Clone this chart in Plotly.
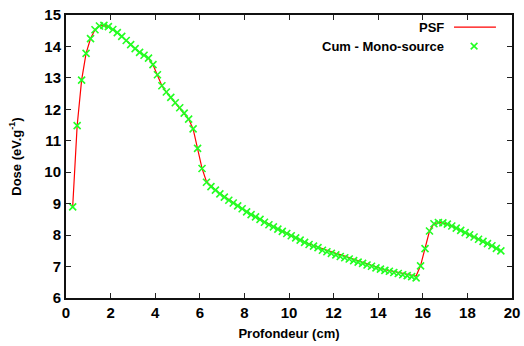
import plotly.graph_objects as go

depth_cm = [0.3, 0.5, 0.7, 0.9, 1.1, 1.3, 1.5, 1.7, 1.9, 2.1, 2.3, 2.5, 2.7, 2.9, 3.1, 3.3, 3.5, 3.7, 3.9,
            4.1, 4.3, 4.5, 4.7, 4.9, 5.1, 5.3, 5.5, 5.7, 5.9, 6.1, 6.3, 6.5, 6.7, 6.9, 7.1, 7.3, 7.5, 7.7,
            7.9, 8.1, 8.3, 8.5, 8.7, 8.9, 9.1, 9.3, 9.5, 9.7, 9.9, 10.1, 10.3, 10.5, 10.7, 10.9, 11.1,
            11.3, 11.5, 11.7, 11.9, 12.1, 12.3, 12.5, 12.7, 12.9, 13.1, 13.3, 13.5, 13.7, 13.9, 14.1,
            14.3, 14.5, 14.7, 14.9, 15.1, 15.3, 15.5, 15.7, 15.9, 16.1, 16.3, 16.5, 16.7, 16.9, 17.1,
            17.3, 17.5, 17.7, 17.9, 18.1, 18.3, 18.5, 18.7, 18.9, 19.1, 19.3, 19.5]

dose_cum = [8.90, 11.48, 12.93, 13.78, 14.25, 14.53, 14.65, 14.67, 14.63, 14.54, 14.44, 14.32, 14.19,
            14.06, 13.93, 13.81, 13.72, 13.63, 13.42, 13.10, 12.75, 12.55, 12.38, 12.21, 12.05, 11.88,
            11.69, 11.38, 10.76, 10.12, 9.68, 9.54, 9.43, 9.31, 9.21, 9.11, 9.02, 8.93, 8.84, 8.74,
            8.65, 8.58, 8.50, 8.41, 8.33, 8.26, 8.19, 8.12, 8.05, 7.98, 7.91, 7.84, 7.77, 7.70, 7.65,
            7.60, 7.52, 7.47, 7.42, 7.37, 7.32, 7.28, 7.24, 7.19, 7.14, 7.10, 7.05, 7.01, 6.96, 6.92,
            6.88, 6.85, 6.81, 6.78, 6.74, 6.71, 6.68, 6.64, 7.02, 7.57, 8.13, 8.36, 8.40, 8.39, 8.35,
            8.29, 8.22, 8.15, 8.08, 8.01, 7.94, 7.87, 7.80, 7.73, 7.66, 7.58, 7.50]

dose_psf = [8.90, 11.48, 12.93, 13.78, 14.25, 14.53, 14.65, 14.67, 14.63, 14.54, 14.44, 14.32, 14.19,
            14.06, 13.93, 13.81, 13.72, 13.63, 13.42, 13.10, 12.75, 12.55, 12.38, 12.21, 12.05, 11.88,
            11.69, 11.38, 10.76, 10.12, 9.70, 9.56, 9.44, 9.32, 9.22, 9.12, 9.03, 8.94, 8.85, 8.75,
            8.66, 8.58, 8.50, 8.42, 8.34, 8.27, 8.20, 8.13, 8.06, 7.99, 7.92, 7.85, 7.78, 7.72, 7.67,
            7.62, 7.55, 7.50, 7.46, 7.42, 7.38, 7.33, 7.28, 7.22, 7.17, 7.12, 7.07, 7.03, 6.98, 6.94,
            6.90, 6.87, 6.84, 6.81, 6.78, 6.75, 6.72, 6.70, 7.03, 7.57, 8.13, 8.36, 8.40, 8.39, 8.35,
            8.29, 8.22, 8.15, 8.08, 8.01, 7.94, 7.87, 7.80, 7.73, 7.66, 7.58, 7.50]

x_ticks = [0, 2, 4, 6, 8, 10, 12, 14, 16, 18, 20]
y_ticks = [6, 7, 8, 9, 10, 11, 12, 13, 14, 15]

FONT = "Liberation Sans, Arial, sans-serif"
RED = "#ff0000"
GREEN = "#22ff22"

fig = go.Figure()
fig.add_trace(go.Scatter(x=depth_cm, y=dose_psf, mode="lines", name="PSF",
                         line=dict(color=RED, width=1.2)))
fig.add_trace(go.Scatter(x=depth_cm, y=dose_cum, mode="markers", name="Cum - Mono-source",
                         marker=dict(symbol="x-thin", size=7, line=dict(color=GREEN, width=1.6))))

axis_common = dict(showline=True, linecolor="#111111", linewidth=2, mirror="ticks",
                   ticks="inside", ticklen=5, tickwidth=1, tickcolor="#222222",
                   showgrid=False, zeroline=False, automargin=False,
                   tickfont=dict(family=FONT, size=15, color="#000000", weight="bold"))

fig.update_xaxes(range=[0, 20], tickvals=x_ticks, ticktext=[str(v) for v in x_ticks],
                 title=dict(text="Profondeur (cm)", standoff=9,
                            font=dict(family=FONT, size=13, color="#000000", weight="bold")),
                 **axis_common)
fig.update_yaxes(range=[6, 15], tickvals=y_ticks, ticktext=[str(v) for v in y_ticks],
                 title=dict(text="Dose (eV.g<sup>-1</sup>)", standoff=20,
                            font=dict(family=FONT, size=13, color="#000000", weight="bold")),
                 **axis_common)

# legend (gnuplot style: text right-aligned, sample on the right)
leg_font = dict(family=FONT, size=13, color="#000000", weight="bold")
fig.add_annotation(xref="paper", yref="paper", x=0.851, y=0.957, text="PSF", showarrow=False,
                   xanchor="right", yanchor="middle", font=leg_font)
fig.add_annotation(xref="paper", yref="paper", x=0.851, y=0.890, text="Cum - Mono-source",
                   showarrow=False, xanchor="right", yanchor="middle", font=leg_font)
fig.add_shape(type="line", xref="paper", yref="paper", x0=0.870, x1=0.964, y0=0.957, y1=0.957,
              line=dict(color=RED, width=1.2))
cx, cy, dx, dy = 0.915, 0.890, 0.0075, 0.0115
fig.add_shape(type="path", xref="paper", yref="paper",
              path=f"M {cx-dx},{cy-dy} L {cx+dx},{cy+dy} M {cx-dx},{cy+dy} L {cx+dx},{cy-dy}",
              line=dict(color=GREEN, width=1.6))

fig.update_layout(width=524, height=346, showlegend=False,
                  margin=dict(l=66, r=12, t=15, b=48),
                  plot_bgcolor="white", paper_bgcolor="white",
                  font=dict(family=FONT))

fig.write_html("out.html", config={"displayModeBar": False},
               post_script="document.body.style.margin='0';document.body.style.overflow='hidden';")
